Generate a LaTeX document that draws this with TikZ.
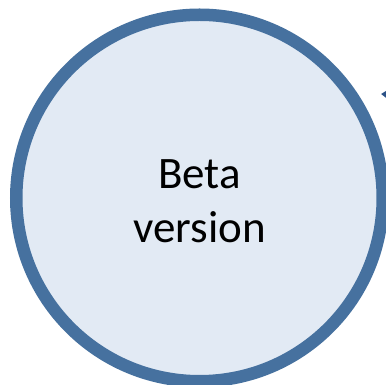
\documentclass[tikz,border=0pt]{standalone}
\usepackage{fontspec}
\setmainfont{Carlito}
\usepackage{tikz}
\usetikzlibrary{arrows.meta}
\definecolor{ringblue}{RGB}{70,113,159}
\definecolor{fillblue}{RGB}{226,234,244}
\definecolor{arrowblue}{RGB}{44,82,135}
\begin{document}
\begin{tikzpicture}[x=1pt, y=1pt,
    phase/.style={circle, draw=ringblue, fill=fillblue, line width=12.5pt, minimum size=366.5pt, inner sep=0pt},
    phaselabel/.style={align=center, inner sep=0pt, font=\fontsize{45}{54}\selectfont}]
    \useasboundingbox (0,0) rectangle (386,385);
    \clip (0,0) rectangle (386,385);

    % Phase circle
    \node [phase] (beta) at (199.5,187) {};
    \node [phaselabel] (betatext) at ([yshift=-3]beta.center) {Beta\\version};

    % Arrow coming in from the right
    \coordinate (arrowstart) at (420,289);
    \coordinate (arrowtip) at (381,291);
    \draw [arrowblue, line width=4pt, -{Triangle[length=10pt, width=13pt]}] (arrowstart) -- (arrowtip);
\end{tikzpicture}
\end{document}
